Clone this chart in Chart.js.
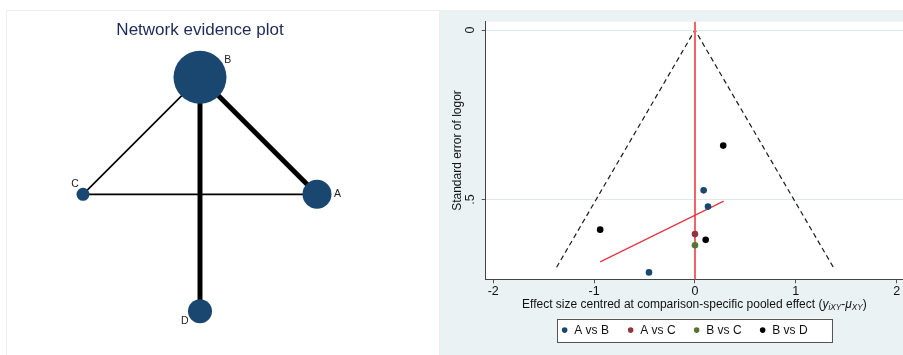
<!DOCTYPE html>
<html>
<head>
<meta charset="utf-8">
<script src="https://cdn.jsdelivr.net/npm/chart.js@4.4.1/dist/chart.umd.min.js"></script>
<style>
  html, body { margin: 0; padding: 0; background: #fff; }
  #wrap { position: relative; width: 903px; height: 355px; overflow: hidden; }
  canvas { position: absolute; top: 0; }
  #net { left: 0; }
  #funnel { left: 440px; }
</style>
</head>
<body>
<div id="wrap">
  <canvas id="net" width="440" height="355"></canvas>
  <canvas id="funnel" width="463" height="355"></canvas>
</div>
<script>
// ---- network plot data ----
const treatments = ['A', 'B', 'C', 'D'];
const nodeX = [1, 0, -1, 0];          // circle layout
const nodeY = [0, 1, 0, -1];
const nodeWeight = [210, 702, 42, 144];
const edges = [['A', 'B'], ['A', 'C'], ['B', 'C'], ['B', 'D']];
const edgeStudies = [3, 1, 1, 3];

// ---- comparison-adjusted funnel plot data ----
const comparisons = ['A vs B', 'A vs C', 'B vs C', 'B vs D'];
const abEffect = [0.086, 0.129, -0.456];
const abSe = [0.473, 0.521, 0.715];
const acEffect = [0.0];
const acSe = [0.602];
const bcEffect = [0.0];
const bcSe = [0.635];
const bdEffect = [0.28, -0.94, 0.106];
const bdSe = [0.341, 0.589, 0.619];
const funnelEffect = [-1.372, 0, 1.372];
const funnelSe = [0.70, 0, 0.70];
const fitEffect = [-0.94, 0.285];
const fitSe = [0.684, 0.505];
const nullEffect = 0;
const xTicks = [-2, -1, 0, 1, 2];
const yTicks = [0, 0.5];
const yTickLabels = ['0', '.5'];

const FONT = "'Liberation Sans', Arial, Helvetica, sans-serif";
const compColors = ['#1a476f', '#90353b', '#55752f', '#000000'];
const nodeColor = '#1a476f';

const pts = (xs, ys) => xs.map((x, i) => ({ x: x, y: ys[i] }));

// ---------------- left: network evidence plot ----------------
const labelAngle = [0, -31, -129, 148];

const netDecor = {
    id: 'netDecor',
    beforeDraw(chart) {
        const { ctx, width, height } = chart;
        ctx.save();
        ctx.fillStyle = '#fff';
        ctx.fillRect(0, 0, width, height);
        ctx.strokeStyle = '#ededed';
        ctx.lineWidth = 1;
        ctx.strokeRect(6.5, 10.5, width - 7, height);
        ctx.restore();
    },
    afterDraw(chart) {
        const { ctx } = chart;
        const xs = chart.scales.x, ys = chart.scales.y;
        ctx.save();
        ctx.fillStyle = '#1d2a57';
        ctx.font = '17px ' + FONT;
        ctx.textAlign = 'center';
        ctx.textBaseline = 'middle';
        ctx.fillText('Network evidence plot', 200, 30);

        ctx.fillStyle = '#222';
        ctx.font = '10.5px ' + FONT;
        treatments.forEach((t, i) => {
            const cx = xs.getPixelForValue(nodeX[i]);
            const cy = ys.getPixelForValue(nodeY[i]);
            const d = Math.sqrt(nodeWeight[i]) + 6;
            const a = labelAngle[i] * Math.PI / 180;
            ctx.fillText(t, cx + d * Math.cos(a), cy + d * Math.sin(a));
        });
        ctx.restore();
    }
};

const edgeSets = edges.map((e, k) => {
    const i = treatments.indexOf(e[0]), j = treatments.indexOf(e[1]);
    return {
        type: 'line',
        data: [{ x: nodeX[i], y: nodeY[i] }, { x: nodeX[j], y: nodeY[j] }],
        borderColor: '#000',
        borderWidth: edgeStudies[k] * 1.65,
        pointRadius: 0,
        fill: false
    };
});

new Chart(document.getElementById('net'), {
    type: 'scatter',
    data: {
        datasets: [
            {
                data: pts(nodeX, nodeY),
                backgroundColor: nodeColor,
                borderColor: nodeColor,
                borderWidth: 0,
                pointRadius: nodeWeight.map(w => Math.sqrt(w)),
                pointHoverRadius: nodeWeight.map(w => Math.sqrt(w)),
                clip: false
            },
            ...edgeSets
        ]
    },
    options: {
        responsive: false,
        animation: false,
        events: [],
        layout: { padding: 0, autoPadding: false },
        plugins: { legend: { display: false }, tooltip: { enabled: false } },
        scales: {
            x: { type: 'linear', display: false, min: -200 / 117, max: 240 / 117 },
            y: { type: 'linear', display: false, min: -160.7 / 117, max: 194.3 / 117 }
        }
    },
    plugins: [netDecor]
});

// ---------------- right: funnel plot ----------------
function drawPieces(ctx, pieces, cx, cy) {
    let total = 0;
    pieces.forEach(p => { ctx.font = p.f; p.w = ctx.measureText(p.t).width; total += p.w; });
    let x = cx - total / 2;
    pieces.forEach(p => {
        ctx.font = p.f;
        ctx.fillText(p.t, x, cy + (p.dy || 0));
        x += p.w;
    });
}

const funnelDecor = {
    id: 'funnelDecor',
    beforeDraw(chart) {
        const { ctx, chartArea: a, width, height } = chart;
        ctx.save();
        ctx.fillStyle = '#fff';
        ctx.fillRect(0, 0, width, height);
        ctx.fillStyle = '#eaf2f3';
        ctx.fillRect(0, 10, width, height - 10);
        ctx.fillStyle = '#fff';
        ctx.fillRect(a.left, a.top, a.right - a.left, a.bottom - a.top);
        ctx.restore();
    },
    afterDraw(chart) {
        const { ctx, chartArea: a } = chart;
        const ys = chart.scales.y;
        const cx = (a.left + a.right) / 2;
        ctx.save();
        ctx.fillStyle = '#111';
        ctx.textBaseline = 'middle';

        // rotated y tick labels
        ctx.textAlign = 'center';
        ctx.font = '12.5px ' + FONT;
        yTicks.forEach((v, i) => {
            ctx.save();
            ctx.translate(30.7, ys.getPixelForValue(v));
            ctx.rotate(-Math.PI / 2);
            ctx.fillText(yTickLabels[i], 0, 0);
            ctx.restore();
        });

        // x axis title with subscripts
        ctx.textAlign = 'left';
        const reg = '12px ' + FONT, it = 'italic 12px ' + FONT, sub = 'italic 8.2px ' + FONT;
        drawPieces(ctx, [
            { t: 'Effect size centred at comparison-specific pooled effect (', f: reg },
            { t: 'y', f: it },
            { t: 'iXY', f: sub, dy: 2.5 },
            { t: '-', f: reg },
            { t: 'μ', f: it },
            { t: 'XY', f: sub, dy: 2.5 },
            { t: ')', f: reg }
        ], cx, 305);

        // legend box
        const bw = 274.6, bl = cx - bw / 2, bt = 318.5, bh = 23.2;
        ctx.fillStyle = '#fff';
        ctx.fillRect(bl, bt, bw, bh);
        ctx.strokeStyle = '#555';
        ctx.lineWidth = 1;
        ctx.strokeRect(Math.round(bl) + 0.5, Math.round(bt) + 0.5, Math.round(bw), Math.round(bh));
        ctx.font = '12px ' + FONT;
        comparisons.forEach((name, i) => {
            const dx = bl + 7.6 + i * 66;
            const my = bt + bh / 2;
            ctx.fillStyle = compColors[i];
            ctx.beginPath();
            ctx.arc(dx, my, 2.8, 0, Math.PI * 2);
            ctx.fill();
            ctx.fillStyle = '#111';
            ctx.fillText(name, dx + 9.6, my + 0.5);
        });
        ctx.restore();
    }
};

const effects = [abEffect, acEffect, bcEffect, bdEffect];
const ses = [abSe, acSe, bcSe, bdSe];
const pointSets = comparisons.map((name, i) => ({
    label: name,
    data: pts(effects[i], ses[i]),
    backgroundColor: compColors[i],
    borderColor: compColors[i],
    borderWidth: 0,
    pointRadius: 3.3,
    pointHoverRadius: 3.3
}));

new Chart(document.getElementById('funnel'), {
    type: 'scatter',
    data: {
        datasets: [
            ...pointSets,
            {
                type: 'line',
                label: 'fit',
                data: pts(fitEffect, fitSe),
                borderColor: '#e23845',
                borderWidth: 1.3,
                pointRadius: 0,
                fill: false
            },
            {
                type: 'line',
                label: 'null',
                data: [{ x: nullEffect, y: -0.05 }, { x: nullEffect, y: 0.8 }],
                borderColor: '#f36464',
                borderWidth: 2,
                pointRadius: 0,
                fill: false
            },
            {
                type: 'line',
                label: 'funnel',
                data: pts(funnelEffect, funnelSe),
                borderColor: '#1a1a1a',
                borderWidth: 1.2,
                borderDash: [5, 3.5],
                pointRadius: 0,
                fill: false
            }
        ]
    },
    options: {
        responsive: false,
        animation: false,
        events: [],
        layout: { padding: { top: 21.7, left: 0, right: 0, bottom: 0 }, autoPadding: false },
        plugins: { legend: { display: false }, tooltip: { enabled: false } },
        scales: {
            x: {
                type: 'linear',
                min: -2.075,
                max: 2.0625,
                afterBuildTicks: s => { s.ticks = xTicks.map(v => ({ value: v })); },
                afterFit: s => { s.height = 75.7; },
                grid: { drawOnChartArea: false, tickLength: 4, tickColor: '#555' },
                border: { color: '#444', width: 1 },
                ticks: { padding: 1, color: '#111', font: { family: FONT, size: 12.5 }, callback: v => String(v) }
            },
            y: {
                type: 'linear',
                reverse: true,
                min: -0.0245,
                max: 0.7354,
                afterBuildTicks: s => { s.ticks = yTicks.map(v => ({ value: v })); },
                afterFit: s => { s.width = 45.7; },
                grid: { color: '#dde9ee', tickColor: '#555', tickLength: 4 },
                border: { color: '#444', width: 1 },
                ticks: { display: false },
                title: {
                    display: true,
                    text: 'Standard error of logor',
                    color: '#111',
                    font: { family: FONT, size: 12 },
                    padding: { top: 10.1, bottom: 0 }
                }
            }
        }
    },
    plugins: [funnelDecor]
});
</script>
</body>
</html>
